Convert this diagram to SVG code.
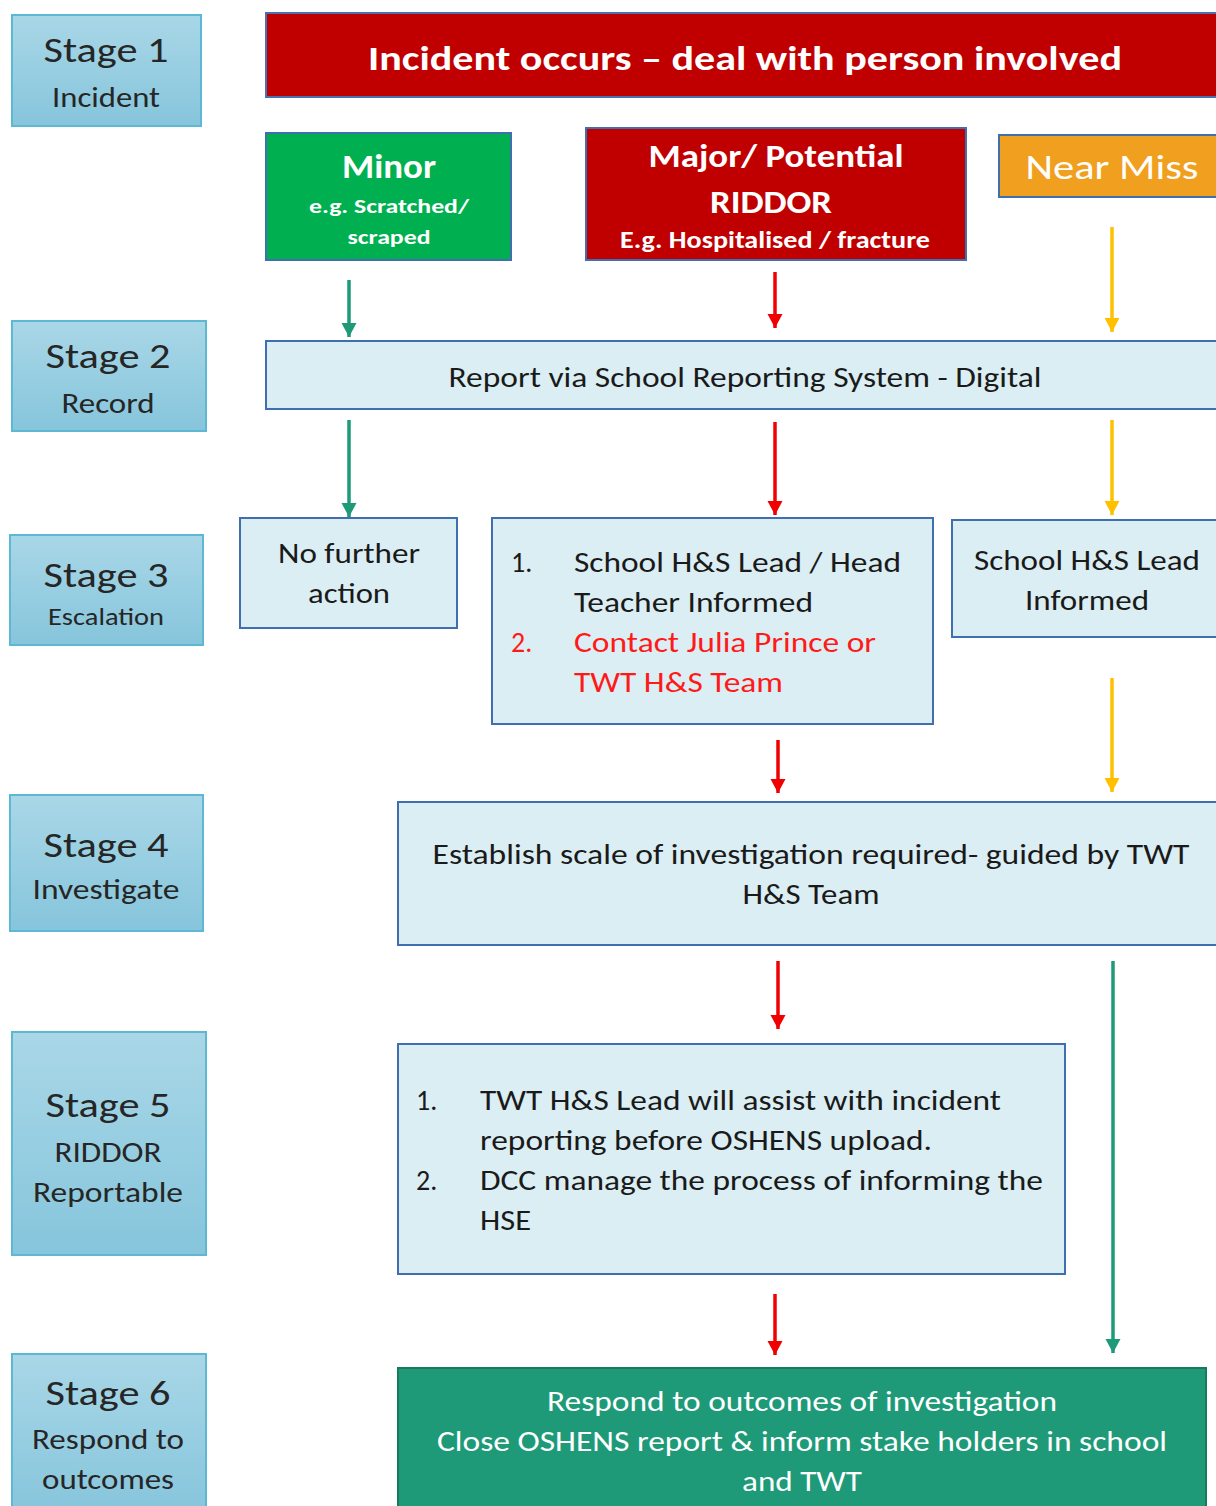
<svg xmlns="http://www.w3.org/2000/svg" width="1216" height="1506" viewBox="0 0 1216 1506">
<style>
text{font-family:Carlito,Lato,"Liberation Sans",sans-serif;text-anchor:middle}
.stage{fill:url(#sg);stroke:#5db8d4;stroke-width:2}
.st{fill:#262626;font-size:34px}
.ss{fill:#262626;font-size:28px}
.box{fill:#daeef3;stroke:#3f6faf;stroke-width:2}
.bt{fill:#1a1a1a;font-size:28px}
.rt{fill:#ff1a1a;font-size:28px}
.wt{fill:#ffffff;font-weight:bold}
.l{text-anchor:start}
.con line{stroke-width:3.5}
</style>
<defs>
<linearGradient id="sg" x1="0" y1="0" x2="0" y2="1"><stop offset="0" stop-color="#a9d7e7"/><stop offset="1" stop-color="#86c5dc"/></linearGradient>
<marker id="mg" markerUnits="userSpaceOnUse" markerWidth="16" markerHeight="16" refX="14" refY="8" orient="auto" viewBox="0 0 16 16"><path d="M0,0.5 L14,8 L0,15.5 Z" fill="#1e9a78"/></marker>
<marker id="mr" markerUnits="userSpaceOnUse" markerWidth="16" markerHeight="16" refX="14" refY="8" orient="auto" viewBox="0 0 16 16"><path d="M0,0.5 L14,8 L0,15.5 Z" fill="#f00000"/></marker>
<marker id="my" markerUnits="userSpaceOnUse" markerWidth="16" markerHeight="16" refX="14" refY="8" orient="auto" viewBox="0 0 16 16"><path d="M0,0.5 L14,8 L0,15.5 Z" fill="#ffc000"/></marker>
</defs>

<g id="stage1"><rect class="stage" x="12" y="15" width="189" height="111"/><text class="st" x="106" y="62" textLength="125" lengthAdjust="spacingAndGlyphs">Stage 1</text><text class="ss" x="106" y="107" textLength="108" lengthAdjust="spacingAndGlyphs">Incident</text></g>
<g id="stage2"><rect class="stage" x="12" y="321" width="194" height="110"/><text class="st" x="108" y="368" textLength="125" lengthAdjust="spacingAndGlyphs">Stage 2</text><text class="ss" x="108" y="413" textLength="93" lengthAdjust="spacingAndGlyphs">Record</text></g>
<g id="stage3"><rect class="stage" x="10" y="535" width="193" height="110"/><text class="st" x="106" y="587" textLength="125" lengthAdjust="spacingAndGlyphs">Stage 3</text><text class="ss" x="106" y="625" style="font-size:25px" textLength="116" lengthAdjust="spacingAndGlyphs">Escalation</text></g>
<g id="stage4"><rect class="stage" x="10" y="795" width="193" height="136"/><text class="st" x="106" y="857" textLength="125" lengthAdjust="spacingAndGlyphs">Stage 4</text><text class="ss" x="106" y="899" textLength="147" lengthAdjust="spacingAndGlyphs">Investigate</text></g>
<g id="stage5"><rect class="stage" x="12" y="1032" width="194" height="223"/><text class="st" x="108" y="1117" textLength="125" lengthAdjust="spacingAndGlyphs">Stage 5</text><text class="ss" x="108" y="1162" textLength="107" lengthAdjust="spacingAndGlyphs">RIDDOR</text><text class="ss" x="108" y="1202" textLength="150" lengthAdjust="spacingAndGlyphs">Reportable</text></g>
<g id="stage6"><rect class="stage" x="12" y="1354" width="194" height="160"/><text class="st" x="108" y="1405" textLength="125" lengthAdjust="spacingAndGlyphs">Stage 6</text><text class="ss" x="108" y="1449" textLength="152" lengthAdjust="spacingAndGlyphs">Respond to</text><text class="ss" x="108" y="1489" textLength="132" lengthAdjust="spacingAndGlyphs">outcomes</text></g>

<g id="incident"><rect x="266" y="13" width="960" height="84" fill="#c00000" stroke="#4a72b0" stroke-width="2"/><text class="wt" x="745" y="70" style="font-size:35px" textLength="754" lengthAdjust="spacingAndGlyphs">Incident occurs – deal with person involved</text></g>
<g id="minor"><rect x="266" y="133" width="245" height="127" fill="#00b050" stroke="#3f6faf" stroke-width="2"/><text class="wt" x="389" y="178" style="font-size:34px" textLength="94" lengthAdjust="spacingAndGlyphs">Minor</text><text class="wt" x="389" y="213" style="font-size:21px" textLength="160" lengthAdjust="spacingAndGlyphs">e.g. Scratched/</text><text class="wt" x="389" y="244" style="font-size:21px" textLength="83" lengthAdjust="spacingAndGlyphs">scraped</text></g>
<g id="major"><rect x="586" y="128" width="380" height="132" fill="#c00000" stroke="#3f6faf" stroke-width="2"/><text class="wt" x="776" y="167" style="font-size:33px" textLength="255" lengthAdjust="spacingAndGlyphs">Major/ Potential</text><text class="wt" x="771" y="213" style="font-size:33px" textLength="122" lengthAdjust="spacingAndGlyphs">RIDDOR</text><text class="wt" x="775" y="248" style="font-size:24px" textLength="310" lengthAdjust="spacingAndGlyphs">E.g. Hospitalised / fracture</text></g>
<g id="nearmiss"><rect x="999" y="135" width="227" height="62" fill="#f19f1f" stroke="#3f6faf" stroke-width="2"/><text class="wt" x="1112" y="179" style="font-size:35px;font-weight:normal" textLength="173" lengthAdjust="spacingAndGlyphs">Near Miss</text></g>

<g id="report"><rect class="box" x="266" y="341" width="960" height="68"/><text class="bt" x="745" y="387" textLength="593" lengthAdjust="spacingAndGlyphs">Report via School Reporting System - Digital</text></g>
<g id="nofurther"><rect class="box" x="240" y="518" width="217" height="110"/><text class="bt" x="349" y="563" textLength="142" lengthAdjust="spacingAndGlyphs">No further</text><text class="bt" x="349" y="603" textLength="82" lengthAdjust="spacingAndGlyphs">action</text></g>
<g id="headinformed"><rect class="box" x="492" y="518" width="441" height="206"/>
<text class="bt l" x="511" y="572">1.</text><text class="bt l" x="574" y="572" textLength="327" lengthAdjust="spacingAndGlyphs">School H&amp;S Lead / Head</text>
<text class="bt l" x="574" y="612" textLength="239" lengthAdjust="spacingAndGlyphs">Teacher Informed</text>
<text class="rt l" x="511" y="652">2.</text><text class="rt l" x="574" y="652" textLength="302" lengthAdjust="spacingAndGlyphs">Contact Julia Prince or</text>
<text class="rt l" x="574" y="692" textLength="209" lengthAdjust="spacingAndGlyphs">TWT H&amp;S Team</text></g>
<g id="leadinformed"><rect class="box" x="952" y="520" width="274" height="117"/><text class="bt" x="1087" y="570" textLength="226" lengthAdjust="spacingAndGlyphs">School H&amp;S Lead</text><text class="bt" x="1087" y="610" textLength="124" lengthAdjust="spacingAndGlyphs">Informed</text></g>
<g id="establish"><rect class="box" x="398" y="802" width="828" height="143"/><text class="bt" x="811" y="864" textLength="757" lengthAdjust="spacingAndGlyphs">Establish scale of investigation required- guided by TWT</text><text class="bt" x="811" y="904" textLength="137" lengthAdjust="spacingAndGlyphs">H&amp;S Team</text></g>
<g id="riddor"><rect class="box" x="398" y="1044" width="667" height="230"/>
<text class="bt l" x="416" y="1110">1.</text><text class="bt l" x="480" y="1110" textLength="521" lengthAdjust="spacingAndGlyphs">TWT H&amp;S Lead will assist with incident</text>
<text class="bt l" x="480" y="1150" textLength="452" lengthAdjust="spacingAndGlyphs">reporting before OSHENS upload.</text>
<text class="bt l" x="416" y="1190">2.</text><text class="bt l" x="480" y="1190" textLength="563" lengthAdjust="spacingAndGlyphs">DCC manage the process of informing the</text>
<text class="bt l" x="480" y="1230" textLength="51" lengthAdjust="spacingAndGlyphs">HSE</text></g>
<g id="respond"><rect x="398" y="1368" width="808" height="150" fill="#1e9a78" stroke="#167a5e" stroke-width="2"/>
<text class="wt" x="802" y="1411" style="font-size:28px;font-weight:normal" textLength="510" lengthAdjust="spacingAndGlyphs">Respond to outcomes of investigation</text>
<text class="wt" x="802" y="1451" style="font-size:28px;font-weight:normal" textLength="730" lengthAdjust="spacingAndGlyphs">Close OSHENS report &amp; inform stake holders in school</text>
<text class="wt" x="802" y="1491" style="font-size:28px;font-weight:normal" textLength="120" lengthAdjust="spacingAndGlyphs">and TWT</text></g>

<g id="connectors" class="con">
<line x1="349" y1="280" x2="349" y2="337" stroke="#1e9a78" marker-end="url(#mg)"/>
<line x1="775" y1="272" x2="775" y2="328" stroke="#f00000" marker-end="url(#mr)"/>
<line x1="1112" y1="227" x2="1112" y2="332" stroke="#ffc000" marker-end="url(#my)"/>
<line x1="349" y1="420" x2="349" y2="517" stroke="#1e9a78" marker-end="url(#mg)"/>
<line x1="775" y1="422" x2="775" y2="515" stroke="#f00000" marker-end="url(#mr)"/>
<line x1="1112" y1="420" x2="1112" y2="515" stroke="#ffc000" marker-end="url(#my)"/>
<line x1="778" y1="740" x2="778" y2="793" stroke="#f00000" marker-end="url(#mr)"/>
<line x1="1112" y1="678" x2="1112" y2="792" stroke="#ffc000" marker-end="url(#my)"/>
<line x1="778" y1="961" x2="778" y2="1029" stroke="#f00000" marker-end="url(#mr)"/>
<line x1="1113" y1="961" x2="1113" y2="1353" stroke="#1e9a78" marker-end="url(#mg)"/>
<line x1="775" y1="1294" x2="775" y2="1355" stroke="#f00000" marker-end="url(#mr)"/>
</g>
</svg>
